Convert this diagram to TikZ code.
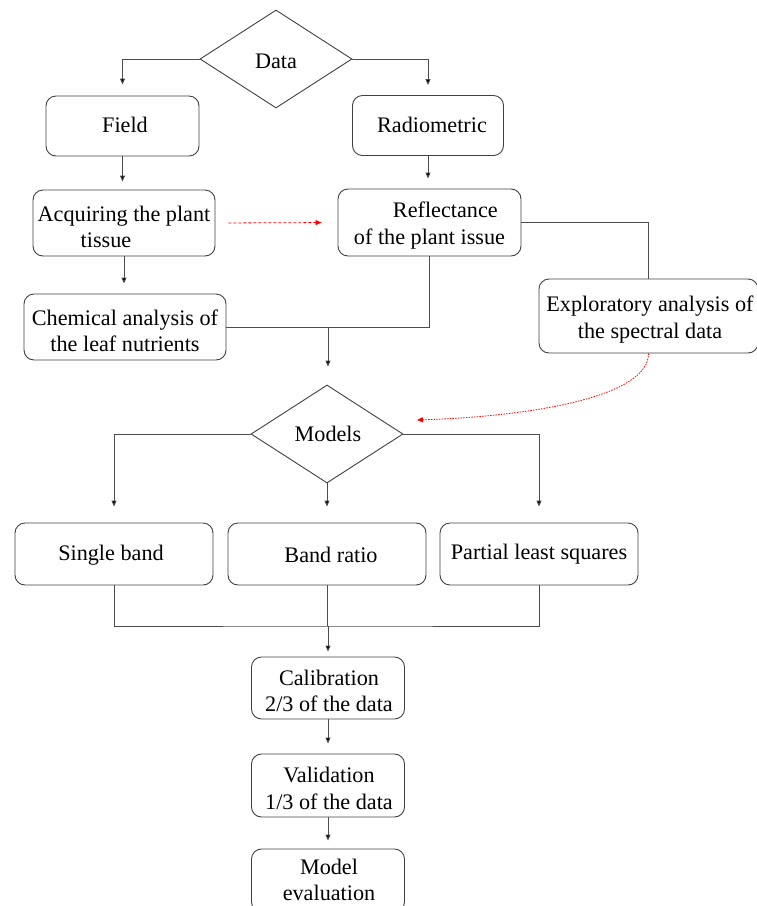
\documentclass[tikz,border=0pt]{standalone}
\usepackage{fontspec}
\setmainfont{Liberation Serif}
\newfontfamily\tnr{Liberation Serif}
\usetikzlibrary{shapes.geometric,arrows.meta}
\begin{document}
\begin{tikzpicture}[x=1pt,y=-1pt,
  font=\tnr\fontsize{22.2}{26.5}\selectfont,
  line/.style={draw=black!70, line width=0.9pt},
  arr/.style={line, -{Triangle[width=5pt,length=6pt,fill=black]}},
  box/.style={draw=black!75, line width=0.9pt, rounded corners=10pt, inner sep=0pt},
  txt/.style={align=center, inner sep=0pt},
  dia/.style={draw=black!75, line width=0.9pt, shape=diamond, inner sep=0pt, minimum width=152pt, minimum height=98pt},
  redarr/.style={draw=red, line width=0.8pt, -{Triangle[width=5pt,length=6pt,fill=red]}}
]
\useasboundingbox (0,0) rectangle (757,906);
\clip (0,0) rectangle (757,906);

% diamonds
\node[dia] (data) at (276,59) {};
\node[txt] (data-t) at (276,61) {Data};
\node[dia] (models) at (327,434) {};
\node[txt] (models-t) at (328,434) {Models};

% boxes
\node[box, minimum width=153pt, minimum height=60pt] (field) at (122.5,126) {};
\node[txt] (field-t) at (125,124.5) {Field};
\node[box, minimum width=151pt, minimum height=60pt] (radio) at (428,125.5) {};
\node[txt] (radio-t) at (432,124.5) {Radiometric};
\node[box, minimum width=182pt, minimum height=66pt] (acq) at (124,223) {};
\node[txt, align=left] (acq-t) at (124,227) {Acquiring the plant\\\hspace*{43pt}tissue};
\node[box, minimum width=183pt, minimum height=67pt] (refl) at (429.5,222.5) {};
\node[txt, align=left] (refl-t) at (429.5,225.5) {\hspace*{39pt}Reflectance\\of the plant issue};
\node[box, minimum width=202pt, minimum height=66pt] (chem) at (125,327) {};
\node[txt] (chem-t) at (125,331) {Chemical analysis of\\the leaf nutrients};
\node[box, minimum width=219pt, minimum height=74pt] (expl) at (648.5,316) {};
\node[txt] (expl-t) at (650,319.5) {Exploratory analysis of\\the spectral data};
\node[box, minimum width=198pt, minimum height=62pt] (single) at (114,554) {};
\node[txt] (single-t) at (111,555) {Single band};
\node[box, minimum width=198pt, minimum height=62pt] (ratio) at (327,554) {};
\node[txt] (ratio-t) at (331,555) {Band ratio};
\node[box, minimum width=198pt, minimum height=62pt] (pls) at (539,554) {};
\node[txt] (pls-t) at (539,554) {Partial least squares};
\node[box, minimum width=153pt, minimum height=62pt] (calib) at (328,688) {};
\node[txt] (calib-t) at (329,691) {Calibration\\2/3 of the data};
\node[box, minimum width=153pt, minimum height=63pt] (valid) at (328,785.5) {};
\node[txt] (valid-t) at (329,788.5) {Validation\\1/3 of the data};
\node[box, minimum width=153pt, minimum height=63pt] (eval) at (328,880.5) {};
\node[txt] (eval-t) at (329,880) {Model\\evaluation};

% coordinates
\coordinate (j) at (328,327);
\coordinate (m) at (328,626);
\coordinate (redend) at (417,420);

% connectors
\draw[arr, shorten >=11pt] (data.west) -| (field.north);
\draw[arr, shorten >=10pt] (data.east) -| (radio.north);
\draw[arr, shorten >=8pt] (field.south) -- (field.south |- acq.north);
\draw[arr, shorten >=10pt] (radio.south) -- (radio.south |- refl.north);
\draw[arr, shorten >=10pt] (acq.south) -- (acq.south |- chem.north);
\draw[line] (refl.south) |- (chem.east);
\draw[line] (refl.east) -| (expl.north);
\draw[arr, shorten >=18pt] (j) -- (j |- models.north);
\draw[arr, shorten >=16pt] (models.west) -| (single.north);
\draw[arr, shorten >=16pt] (models.east) -| (pls.north);
\draw[arr, shorten >=16pt] (models.south) -- (ratio.north);
\draw[line] (single.south) |- (m) -| (pls.south);
\draw[line] (ratio.south) -- (ratio.south |- m);
\draw[arr, shorten >=5pt] (m) -- (calib.north);
\draw[arr, shorten >=10pt] (calib) -- (valid);
\draw[arr, shorten >=8pt] (valid) -- (eval);

% red connectors
\draw[redarr, dash pattern=on 3pt off 2pt, shorten <=13pt, shorten >=16pt] (acq.east) -- (refl.west);
\draw[redarr, dash pattern=on 1.5pt off 1.2pt] (expl.south) .. controls (649,395) and (540,416) .. (redend);
\end{tikzpicture}
\end{document}
